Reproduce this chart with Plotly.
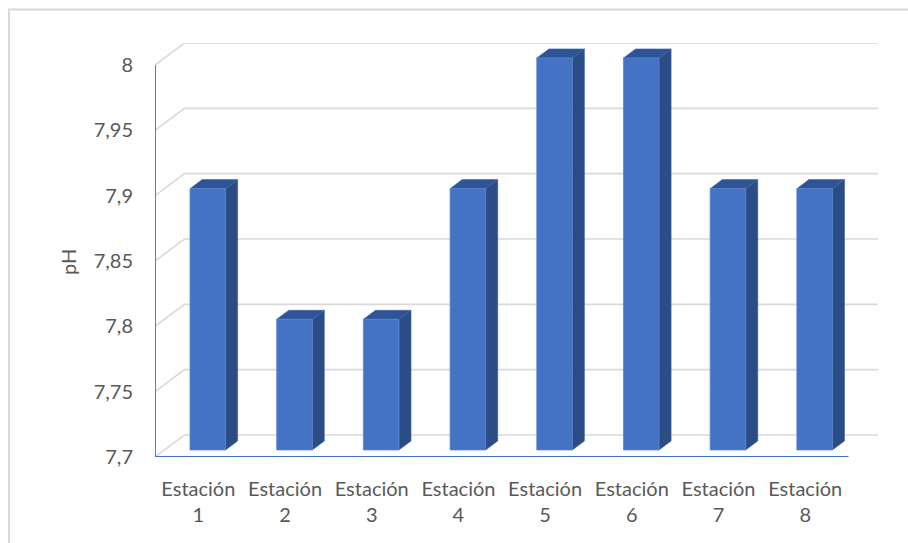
import plotly.graph_objects as go

# pH readings per sampling station
estaciones = ["Estación 1", "Estación 2", "Estación 3", "Estación 4",
              "Estación 5", "Estación 6", "Estación 7", "Estación 8"]
ph = [7.9, 7.8, 7.8, 7.9, 8.0, 8.0, 7.9, 7.9]
y_ticks = [7.7, 7.75, 7.8, 7.85, 7.9, 7.95, 8.0]
y_tick_text = ["7,7", "7,75", "7,8", "7,85", "7,9", "7,95", "8"]

Y_MIN, Y_MAX = 7.7, 8.0
N = len(estaciones)

# Oblique projection used to fake the 3-D column look (axis units)
DEPTH_X = 0.34      # horizontal shift from front wall to back wall (categories)
DEPTH_Y = 0.01684   # vertical shift from front wall to back wall (pH)
FRONT = 0.32        # depth fraction of the column front face
BACK = 0.73         # depth fraction of the column back face
BAR_W = 0.41        # column width as a fraction of the category slot

GRID = "#d9d9d9"
AXIS = "#4472c4"
FACE = "#4472c4"
SIDE = "#2c4c85"
TOP = "#2f5496"
TEXT = "#595959"
FONT = "Lato"
FSIZE = 20

fig = go.Figure()

# Back-wall gridlines with their left-wall diagonal
for v in y_ticks:
    fig.add_trace(go.Scatter(
        x=[0, DEPTH_X, N + DEPTH_X],
        y=[v, v + DEPTH_Y, v + DEPTH_Y],
        mode="lines", line=dict(color=GRID, width=1.6),
        hoverinfo="skip", showlegend=False))

# Columns: front, side and top faces
for i, (name, v) in enumerate(zip(estaciones, ph)):
    xl = i + 0.5 - BAR_W / 2
    xr = i + 0.5 + BAR_W / 2
    fx, fy = FRONT * DEPTH_X, FRONT * DEPTH_Y
    bx, by = BACK * DEPTH_X, BACK * DEPTH_Y
    # side face
    fig.add_trace(go.Scatter(
        x=[xr + fx, xr + bx, xr + bx, xr + fx, xr + fx],
        y=[Y_MIN + fy, Y_MIN + by, v + by, v + fy, Y_MIN + fy],
        mode="lines", fill="toself", fillcolor=SIDE,
        line=dict(color="#3a5e9e", width=0.6),
        hoverinfo="skip", showlegend=False))
    # top face
    fig.add_trace(go.Scatter(
        x=[xl + fx, xr + fx, xr + bx, xl + bx, xl + fx],
        y=[v + fy, v + fy, v + by, v + by, v + fy],
        mode="lines", fill="toself", fillcolor=TOP,
        line=dict(color="#3d63a8", width=0.6),
        hoverinfo="skip", showlegend=False))
    # front face
    fig.add_trace(go.Scatter(
        x=[xl + fx, xr + fx, xr + fx, xl + fx, xl + fx],
        y=[Y_MIN + fy, Y_MIN + fy, v + fy, v + fy, Y_MIN + fy],
        mode="lines", fill="toself", fillcolor=FACE,
        line=dict(color="#5a85d2", width=0.8),
        name=name, hovertemplate=name + ": %{customdata}<extra></extra>",
        customdata=[v] * 5, showlegend=False))

# Front axis lines
fig.add_trace(go.Scatter(
    x=[0, 0, N], y=[Y_MAX, Y_MIN, Y_MIN],
    mode="lines", line=dict(color=AXIS, width=1.8),
    hoverinfo="skip", showlegend=False))

fig.update_layout(
    width=908, height=543,
    margin=dict(l=155, r=30, t=43, b=86),
    paper_bgcolor="white", plot_bgcolor="white",
    font=dict(family=FONT, color=TEXT, size=FSIZE),
    xaxis=dict(
        range=[0, N + DEPTH_X], showgrid=False, zeroline=False,
        showline=False, ticks="",
        tickvals=[i + 0.5 for i in range(N)],
        ticktext=[e.replace(" ", "<br>") for e in estaciones],
        ticklabelstandoff=18,
        tickfont=dict(size=FSIZE, color=TEXT, family=FONT),
        fixedrange=True),
    yaxis=dict(
        range=[Y_MIN, Y_MAX + DEPTH_Y], showgrid=False, zeroline=False,
        showline=False, ticks="",
        tickvals=y_ticks, ticktext=y_tick_text,
        ticklabelstandoff=21,
        tickfont=dict(size=FSIZE, color=TEXT, family=FONT),
        fixedrange=True),
    annotations=[dict(
        text="pH", xref="paper", yref="paper",
        x=(68 - 155) / 723, y=(457 - 262) / 414,
        xanchor="center", yanchor="middle",
        showarrow=False, textangle=-90,
        font=dict(size=FSIZE, color=TEXT, family=FONT))],
    shapes=[dict(
        type="rect", xref="paper", yref="paper",
        x0=(9 - 155) / 723, x1=1.5, y0=-1.0, y1=(457 - 9.5) / 414,
        line=dict(color="#d9d9d9", width=2), layer="below")],
)

fig.write_html("out.html")
